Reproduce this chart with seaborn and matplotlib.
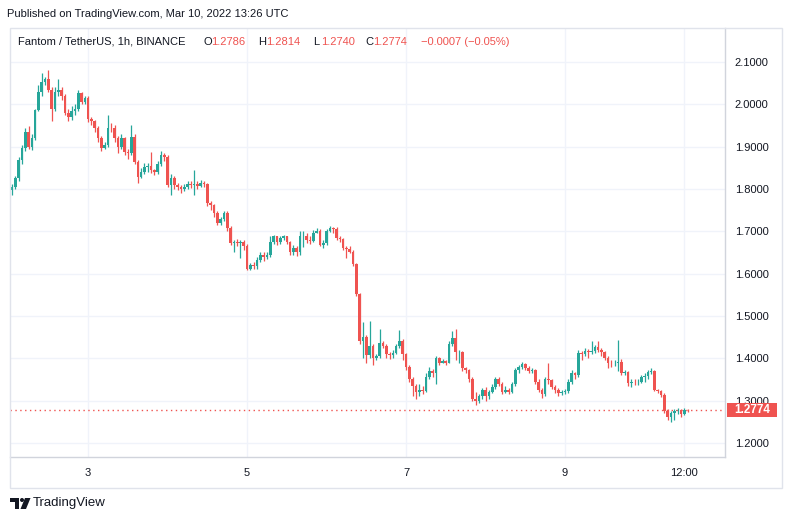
import numpy as np
import pandas as pd
import seaborn as sns
import matplotlib.pyplot as plt
from matplotlib.patches import Rectangle, Polygon, Ellipse

# hourly FTM/USDT candles, Mar 2 01:00 -> Mar 10 13:00
close = [1.805, 1.826, 1.868, 1.897, 1.935, 1.900, 1.920, 1.987, 2.030, 2.053, 2.060, 2.035, 1.990, 2.030, 2.035, 2.020, 1.980, 1.970,
         1.985, 1.990, 2.027, 2.005, 2.015, 1.965, 1.960, 1.945, 1.920, 1.897, 1.905, 1.945, 1.943, 1.920, 1.900, 1.920, 1.887,
         1.885, 1.922, 1.864, 1.828, 1.840, 1.852, 1.855, 1.845, 1.840, 1.860, 1.880, 1.875, 1.810, 1.826, 1.810, 1.805, 1.800, 1.805,
         1.812, 1.810, 1.812, 1.808, 1.815, 1.812, 1.767, 1.762, 1.743, 1.720, 1.730, 1.743, 1.708, 1.672, 1.675, 1.672, 1.675, 1.665,
         1.612, 1.620, 1.617, 1.632, 1.645, 1.640, 1.643, 1.675, 1.688, 1.675, 1.685, 1.688, 1.675, 1.650, 1.660, 1.650, 1.688,
         1.690, 1.680, 1.678, 1.697, 1.700, 1.668, 1.672, 1.700, 1.707, 1.705, 1.685, 1.682, 1.660, 1.658, 1.652, 1.622, 1.552, 1.440,
         1.450, 1.408, 1.430, 1.400, 1.405, 1.436, 1.430, 1.410, 1.407, 1.413, 1.430, 1.440, 1.410, 1.380, 1.350, 1.335, 1.320, 1.325,
         1.322, 1.355, 1.370, 1.365, 1.400, 1.390, 1.393, 1.390, 1.435, 1.448, 1.415, 1.415, 1.377, 1.372,
         1.352, 1.305, 1.300, 1.310, 1.325, 1.310, 1.320, 1.332, 1.352, 1.340, 1.320, 1.325, 1.320, 1.340, 1.372, 1.380, 1.387, 1.377,
         1.370, 1.372, 1.345, 1.325, 1.315, 1.350, 1.348, 1.333, 1.325, 1.318, 1.320, 1.322, 1.345, 1.365, 1.360, 1.412, 1.410,
         1.418, 1.416, 1.418, 1.427, 1.420, 1.415, 1.400, 1.390, 1.388, 1.390, 1.392, 1.365, 1.367, 1.342, 1.345, 1.343, 1.345, 1.355,
         1.358, 1.368, 1.370, 1.325, 1.322, 1.313, 1.275, 1.262, 1.270, 1.275, 1.277, 1.268, 1.2786, 1.2774]
high = [1.812, 1.830, 1.875, 1.903, 1.945, 1.948, 1.930, 1.990, 2.045, 2.074, 2.065, 2.080, 2.040, 2.040, 2.060, 2.040, 2.025, 1.990,
        1.995, 2.000, 2.035, 2.030, 2.020, 2.020, 1.970, 1.962, 1.948, 1.925, 1.910, 1.975, 1.955, 1.950, 1.925, 1.930, 1.922,
        1.895, 1.950, 1.930, 1.868, 1.850, 1.862, 1.862, 1.887, 1.848, 1.865, 1.890, 1.885, 1.880, 1.835, 1.830, 1.815, 1.810, 1.812,
        1.818, 1.818, 1.845, 1.818, 1.822, 1.818, 1.815, 1.772, 1.765, 1.748, 1.735, 1.748, 1.748, 1.712, 1.680, 1.682, 1.680, 1.680,
        1.670, 1.625, 1.628, 1.640, 1.650, 1.650, 1.650, 1.690, 1.692, 1.690, 1.690, 1.692, 1.690, 1.678, 1.667, 1.665, 1.700,
        1.700, 1.695, 1.690, 1.703, 1.708, 1.705, 1.680, 1.705, 1.712, 1.710, 1.710, 1.690, 1.685, 1.665, 1.665, 1.655, 1.625, 1.555,
        1.485, 1.455, 1.488, 1.435, 1.410, 1.470, 1.440, 1.435, 1.415, 1.420, 1.435, 1.468, 1.445, 1.412, 1.385, 1.355, 1.340, 1.340,
        1.335, 1.365, 1.380, 1.375, 1.405, 1.403, 1.398, 1.395, 1.440, 1.465, 1.470, 1.420, 1.418, 1.380,
        1.375, 1.355, 1.320, 1.315, 1.330, 1.332, 1.325, 1.340, 1.355, 1.357, 1.345, 1.335, 1.330, 1.345, 1.378, 1.385, 1.392, 1.390,
        1.382, 1.378, 1.375, 1.350, 1.330, 1.355, 1.390, 1.352, 1.338, 1.330, 1.325, 1.328, 1.350, 1.372, 1.368, 1.420, 1.418,
        1.425, 1.422, 1.442, 1.432, 1.440, 1.425, 1.418, 1.405, 1.395, 1.395, 1.443, 1.398, 1.372, 1.370, 1.352, 1.350, 1.350, 1.360,
        1.365, 1.372, 1.378, 1.372, 1.328, 1.325, 1.318, 1.280, 1.275, 1.280, 1.282, 1.280, 1.282, 1.2814]
low = [1.785, 1.800, 1.820, 1.860, 1.890, 1.895, 1.893, 1.915, 1.985, 2.020, 2.045, 2.030, 1.960, 1.985, 2.020, 2.010, 1.975, 1.960,
       1.962, 1.975, 1.985, 2.000, 2.000, 1.958, 1.950, 1.935, 1.910, 1.890, 1.895, 1.900, 1.935, 1.910, 1.885, 1.895, 1.880,
       1.872, 1.880, 1.860, 1.815, 1.825, 1.835, 1.840, 1.838, 1.832, 1.835, 1.855, 1.865, 1.805, 1.785, 1.800, 1.798, 1.790, 1.795,
       1.800, 1.803, 1.786, 1.800, 1.805, 1.805, 1.760, 1.750, 1.735, 1.715, 1.715, 1.725, 1.700, 1.668, 1.650, 1.665, 1.637, 1.655,
       1.608, 1.608, 1.610, 1.612, 1.628, 1.630, 1.635, 1.640, 1.670, 1.668, 1.670, 1.680, 1.670, 1.645, 1.645, 1.642, 1.645,
       1.662, 1.672, 1.670, 1.675, 1.695, 1.665, 1.660, 1.668, 1.698, 1.695, 1.680, 1.675, 1.655, 1.637, 1.648, 1.618, 1.548, 1.435,
       1.400, 1.390, 1.400, 1.385, 1.395, 1.400, 1.425, 1.400, 1.398, 1.400, 1.410, 1.425, 1.395, 1.372, 1.345, 1.312, 1.305, 1.310,
       1.315, 1.320, 1.350, 1.355, 1.340, 1.385, 1.388, 1.385, 1.388, 1.430, 1.395, 1.390, 1.370, 1.365,
       1.345, 1.300, 1.290, 1.295, 1.305, 1.300, 1.305, 1.318, 1.328, 1.335, 1.315, 1.318, 1.315, 1.318, 1.335, 1.365, 1.375, 1.372,
       1.365, 1.365, 1.340, 1.320, 1.306, 1.312, 1.340, 1.328, 1.318, 1.312, 1.313, 1.315, 1.318, 1.340, 1.350, 1.355, 1.395,
       1.405, 1.400, 1.410, 1.412, 1.415, 1.405, 1.395, 1.378, 1.380, 1.382, 1.370, 1.360, 1.360, 1.335, 1.332, 1.338, 1.338, 1.342,
       1.345, 1.352, 1.362, 1.322, 1.318, 1.308, 1.270, 1.255, 1.250, 1.255, 1.268, 1.262, 1.266, 1.2740]
first_open = 1.798

price_ticks = [1.2, 1.3, 1.4, 1.5, 1.6, 1.7, 1.8, 1.9, 2.0, 2.1]
time_ticks = [24, 72, 120, 168, 204]          # hours after Mar 2 00:00
time_labels = ['3', '5', '7', '9', '12:00']
last_price = 1.2774

UP, DOWN, TXT = '#26a69a', '#ef5350', '#131722'
W, H = 791, 521

df = pd.DataFrame({'close': close, 'high': high, 'low': low})
df['hour'] = np.arange(1, len(df) + 1)
df['open'] = df['close'].shift(1).fillna(first_open)
df['color'] = np.where(df['close'] >= df['open'], UP, DOWN)

sns.set_theme(style='white')
plt.rcParams['font.family'] = ['Liberation Sans', 'DejaVu Sans']

fig = plt.figure(figsize=(W / 100, H / 100), dpi=100)
fx = lambda x: x / W
fy = lambda y: 1 - y / H
ax = fig.add_axes([fx(10), fy(457), fx(725) - fx(10), fy(28) - fy(457)])

# wicks + bodies
ax.vlines(df['hour'], df['low'], df['high'], colors=df['color'], lw=0.9, zorder=2)
body = (df['close'] - df['open']).abs().clip(lower=0.0008)
ax.bar(df['hour'], body, bottom=df[['open', 'close']].min(axis=1), width=0.8,
       color=df['color'], linewidth=0, zorder=3)

ax.set_xlim(0.4, 216.3)
ax.set_ylim(1.1669, 2.1803)
ax.yaxis.tick_right()
ax.set_yticks(price_ticks)
ax.set_yticklabels([f'{p:.4f}' for p in price_ticks])
ax.set_xticks(time_ticks)
ax.set_xticklabels(time_labels)
ax.tick_params(axis='y', length=0, pad=7, labelsize=8, labelcolor=TXT)
ax.tick_params(axis='x', length=0, pad=8, labelsize=8, labelcolor=TXT)
ax.grid(True, color='#f0f3fa', lw=1, zorder=0)
for s in ['top', 'left']:
    ax.spines[s].set_visible(False)
for s in ['right', 'bottom']:
    ax.spines[s].set_color('#d1d4dc')
    ax.spines[s].set_linewidth(1)

# last price line and label
ax.axhline(last_price, color=DOWN, lw=1, ls=(0, (1, 2.5)), zorder=4)
yt = ax.get_yaxis_transform()
half = 7 / 423.3
ax.add_patch(Rectangle((1 + 2 / 715, last_price - half), 50 / 715, 2 * half, transform=yt,
                       fc=DOWN, ec='none', clip_on=False, zorder=5))
ax.text(1 + 27 / 715, last_price, f'{last_price:.4f}', transform=yt, va='center', ha='center',
        fontsize=8.5, color='white', fontweight='bold', clip_on=False, zorder=6)

# frame
fig.add_artist(Rectangle((fx(9.5), fy(487.5)), fx(781.5) - fx(9.5), fy(27.5) - fy(487.5),
                         fill=False, ec='#e0e3eb', lw=1, transform=fig.transFigure))

fig.text(fx(7), fy(14), 'Published on TradingView.com, Mar 10, 2022 13:26 UTC',
         fontsize=8, color=TXT, va='center')

# legend row
fig.text(fx(18), fy(42), 'Fantom / TetherUS, 1h, BINANCE', fontsize=8, color=TXT, va='center')
for lbl, val, x in [('O', '1.2786', 203), ('H', '1.2814', 258), ('L', '1.2740', 313), ('C', '1.2774', 365)]:
    fig.text(fx(x), fy(42), lbl, fontsize=8, color=TXT, va='center')
    fig.text(fx(x + 8), fy(42), val, fontsize=8, color=DOWN, va='center')
fig.text(fx(421), fy(42), '\u22120.0007 (\u22120.05%)', fontsize=8, color=DOWN, va='center')

# footer logo
fig.add_artist(Polygon([(fx(10), fy(498)), (fx(19), fy(498)), (fx(19), fy(509)), (fx(15), fy(509)),
                        (fx(15), fy(502)), (fx(10), fy(502))], closed=True, fc=TXT, ec='none',
                       transform=fig.transFigure))
fig.add_artist(Ellipse((fx(22), fy(500)), 4 / W, 4 / H, fc=TXT, ec='none', transform=fig.transFigure))
fig.add_artist(Polygon([(fx(25), fy(498)), (fx(30.5), fy(498)), (fx(26), fy(509)), (fx(20.5), fy(509))],
                       closed=True, fc=TXT, ec='none', transform=fig.transFigure))
fig.text(fx(33), fy(503), 'TradingView', fontsize=9.5, color=TXT, va='center')

fig.savefig('out.png', dpi=100, facecolor='white')
